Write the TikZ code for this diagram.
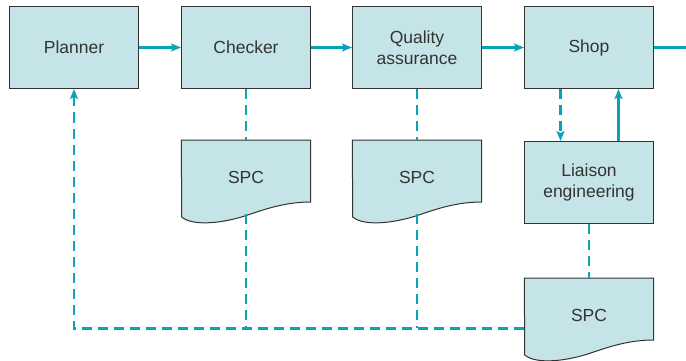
\documentclass[tikz,border=0pt]{standalone}
\usepackage{fontspec}
\setmainfont{Liberation Sans}
\usepackage{tikz}
\usetikzlibrary{positioning,arrows.meta,backgrounds}

\definecolor{boxfill}{HTML}{C5E4E8}
\definecolor{flowline}{HTML}{0AA3B5}
\definecolor{edgegray}{HTML}{333333}

\begin{document}
\begin{tikzpicture}[
        x=1pt, y=1pt,
        box/.style={draw=edgegray, line width=1pt, fill=boxfill, minimum width=129pt, minimum height=82pt, inner sep=0pt, align=center, text=edgegray, font=\fontsize{17.5}{21}\selectfont},
        doc/.style={minimum width=129pt, minimum height=74pt, inner sep=0pt, text=edgegray, font=\fontsize{17.5}{21}\selectfont},
        docline/.style={draw=edgegray, line width=1pt, fill=boxfill},
        flow/.style={-{Stealth[length=10pt,width=8pt,inset=2pt]}, flowline, line width=2.6pt},
        feedback/.style={flowline, line width=2.6pt, dash pattern=on 10pt off 6pt},
        tip/.style={-{Stealth[length=10pt,width=8pt,inset=2pt]}}
    ]
        \useasboundingbox (0,0) rectangle (686,-361);

        \node[box] (planner) at (74,-47.5) {Planner};
        \node[box, right=42pt of planner] (checker) {Checker};
        \node[box, right=41pt of checker] (qa) {Quality\\assurance};
        \node[box, right=42pt of qa] (shop) {Shop};
        \node[box, below=52pt of shop] (liaison) {Liaison\\engineering};

        \node[doc, below=51pt of checker] (spca) {SPC};
        \node[doc, below=51pt of qa] (spcb) {SPC};
        \node[doc, below=54pt of liaison] (spcc) {SPC};

        % wavy document outlines
        \begin{scope}[on background layer]
            \foreach \d in {spca,spcb,spcc}
                \draw[docline] (\d.north west) -- (\d.north east) -- ++(0,-62)
                    .. controls +(-25,0) and +(15,5) .. ++(-60,-12)
                    .. controls +(-25,-9) and +(12,-10) .. ++(-69,-3) -- cycle;
        \end{scope}

        \coordinate (exit) at (696,-47.5);
        \coordinate (join) at ([yshift=-13pt]spcc.west);

        \draw[flow] (planner) -- (checker);
        \draw[flow] (checker) -- (qa);
        \draw[flow] (qa) -- (shop);
        \draw[flow] (shop) -- (exit);

        \draw[feedback, tip] ([xshift=-28.5pt]shop.south) -- ([xshift=-28.5pt]liaison.north);
        \draw[flow] ([xshift=29.5pt]liaison.north) -- ([xshift=29.5pt]shop.south);

        \draw[feedback] (checker) -- (spca);
        \draw[feedback] (qa) -- (spcb);
        \draw[feedback] (liaison) -- (spcc);
        \draw[feedback] (spca.south) -- (spca |- join);
        \draw[feedback] (spcb.south) -- (spcb |- join);
        \draw[feedback, tip] (join) -- (planner |- join) -- (planner.south);
    \end{tikzpicture}
\end{document}
